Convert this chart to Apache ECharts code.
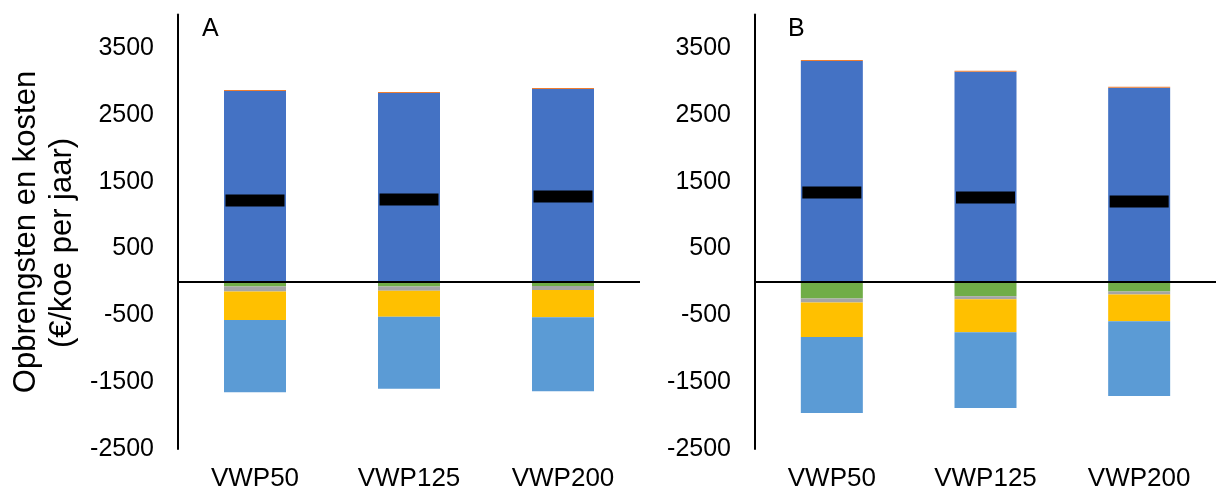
<!DOCTYPE html>
<html><head><meta charset="utf-8">
<script src="https://cdn.jsdelivr.net/npm/echarts@6/dist/echarts.min.js"></script>
<style>html,body{margin:0;padding:0;background:#fff}#c{width:1216px;height:495px}</style>
</head><body><div id="c"></div>
<script>
const categories = ['VWP50', 'VWP125', 'VWP200'];
const yTicks = [-2500, -1500, -500, 500, 1500, 2500, 3500];
// Panel A
const aBlue = [2855, 2825, 2885];
const aOrange = [15, 15, 15];
const aGreen = [-70, -70, -60];
const aGray = [-75, -62, -60];
const aYellow = [-425, -388, -410];
const aLightBlue = [-1080, -1079, -1105];
const aNet = [1219, 1234, 1276];
// Panel B
const bBlue = [3305, 3142, 2903];
const bOrange = [15, 15, 15];
const bGreen = [-250, -215, -145];
const bGray = [-60, -45, -42];
const bYellow = [-514, -495, -403];
const bLightBlue = [-1139, -1133, -1119];
const bNet = [1336, 1264, 1204];

const FONT = 'Liberation Sans, Arial, sans-serif';
const colors = {blue:'#4472C4', orange:'#ED7D31', green:'#70AD47', gray:'#A5A5A5', yellow:'#FFC000', lightblue:'#5B9BD5'};

function yAxis(idx){
  return {type:'value', gridIndex:idx, min:-2500, max:4000, interval:1000,
    axisLine:{show:true, lineStyle:{color:'#000', width:2}},
    axisTick:{show:false}, splitLine:{show:false},
    axisLabel:{color:'#000', fontSize:25, fontFamily:FONT, margin:24, showMaxLabel:false,
      formatter: v => yTicks.indexOf(v) >= 0 ? String(v) : ''}};
}
function xAxis(idx){
  return {type:'category', gridIndex:idx, data:categories,
    axisLine:{show:false, onZero:false}, axisTick:{show:false},
    axisLabel:{color:'#000', fontSize:26, fontFamily:FONT, margin:17}};
}
function bars(idx, stack, blue, orange, green, gray, yellow, lb, net){
  const base = {type:'bar', xAxisIndex:idx, yAxisIndex:idx, stack:stack, barWidth:62};
  return [
    Object.assign({}, base, {name:'blue'+idx, data:blue, itemStyle:{color:colors.blue},
      markLine:{silent:true, symbol:['none','none'], label:{show:false},
        lineStyle:{color:'#000', width:2, type:'solid'}, data:[{yAxis:0}], z:5}}),
    Object.assign({}, base, {name:'orange'+idx, data:orange, itemStyle:{color:colors.orange}}),
    Object.assign({}, base, {name:'green'+idx, data:green, itemStyle:{color:colors.green}}),
    Object.assign({}, base, {name:'gray'+idx, data:gray, itemStyle:{color:colors.gray}}),
    Object.assign({}, base, {name:'yellow'+idx, data:yellow, itemStyle:{color:colors.yellow}}),
    Object.assign({}, base, {name:'lightblue'+idx, data:lb, itemStyle:{color:colors.lightblue}}),
    {type:'scatter', name:'net'+idx, xAxisIndex:idx, yAxisIndex:idx, data:net, symbol:'rect',
      symbolSize:[59,12], itemStyle:{color:'#000', opacity:1}, z:10}
  ];
}

const chart = echarts.init(document.getElementById('c'), null, {renderer:'canvas'});
chart.setOption({
  animation:false,
  textStyle:{fontFamily:FONT},
  grid:[
    {left:178, width:462, top:14.5, bottom:46},
    {left:755, width:462, top:14.5, bottom:46}
  ],
  xAxis:[xAxis(0), xAxis(1)],
  yAxis:[yAxis(0), yAxis(1)],
  graphic:[
    {type:'text', x:26, y:232, rotation:Math.PI/2,
      style:{text:'Opbrengsten en kosten', fontSize:31, fontFamily:FONT, fill:'#000', textAlign:'center', textVerticalAlign:'middle'}},
    {type:'text', x:62, y:243, rotation:Math.PI/2,
      style:{text:'(€/koe per jaar)', fontSize:31, fontFamily:FONT, fill:'#000', textAlign:'center', textVerticalAlign:'middle'}},
    {type:'text', x:202, y:17, style:{text:'A', fontSize:25, fontFamily:FONT, fill:'#000'}},
    {type:'text', x:788, y:17, style:{text:'B', fontSize:25, fontFamily:FONT, fill:'#000'}}
  ],
  series: [].concat(
    bars(0, 'a', aBlue, aOrange, aGreen, aGray, aYellow, aLightBlue, aNet),
    bars(1, 'b', bBlue, bOrange, bGreen, bGray, bYellow, bLightBlue, bNet)
  )
});
</script>
</body></html>
